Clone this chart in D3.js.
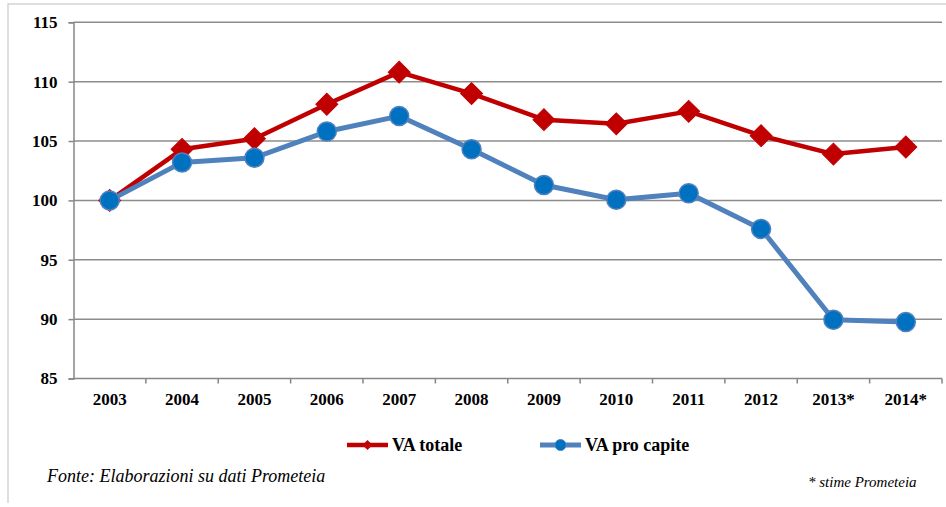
<!DOCTYPE html>
<html>
<head>
<meta charset="utf-8">
<script src="https://cdn.jsdelivr.net/npm/d3@7"></script>
<style>
  body { margin: 0; background: #fff; }
  svg { display: block; }
  text { fill: #000; }
</style>
</head>
<body>
<svg id="chart" width="946" height="507"></svg>
<script>
// Years on the x axis (last two are estimates)
var years = ['2003', '2004', '2005', '2006', '2007', '2008', '2009', '2010', '2011', '2012', '2013*', '2014*'];

// Index values, 2003 = 100
var vaTotale = [100, 104.3, 105.2, 108.1, 110.8, 109.0, 106.8, 106.45, 107.5, 105.45, 103.9, 104.5];
var vaProCapite = [100, 103.2, 103.6, 105.8, 107.1, 104.3, 101.3, 100.05, 100.6, 97.6, 89.95, 89.75];

var yTicks = [85, 90, 95, 100, 105, 110, 115];

var seriesNames = ['VA totale', 'VA pro capite'];

var FONT = '"Liberation Serif", "DejaVu Serif", serif';

var svg = d3.select('#chart');

var margin = { left: 73.5, right: 942, top: 22.3, bottom: 378.5 };

var x = d3.scaleBand()
    .domain(years)
    .range([margin.left, margin.right])
    .padding(0);

var y = d3.scaleLinear()
    .domain([85, 115])
    .range([margin.bottom, margin.top]);

function cx(d) { return x(d) + x.bandwidth() / 2; }

// light frame around the whole figure
svg.append('path')
    .attr('d', 'M8,503 L8,4 L946,4')
    .attr('fill', 'none')
    .attr('stroke', '#d4d4d4')
    .attr('stroke-width', 1.5);

// gridlines
svg.append('g')
    .selectAll('line')
    .data(yTicks.slice(1))
    .enter().append('line')
    .attr('x1', margin.left)
    .attr('x2', margin.right)
    .attr('y1', function (d) { return y(d); })
    .attr('y2', function (d) { return y(d); })
    .attr('stroke', '#8c8c8c')
    .attr('stroke-width', 1.5);

// y axis
var yAxis = svg.append('g')
    .attr('transform', 'translate(' + margin.left + ',0)')
    .call(d3.axisLeft(y).tickValues(yTicks).tickSize(5).tickPadding(11));
yAxis.attr('font-family', FONT).attr('font-size', 17);
yAxis.select('.domain').attr('stroke', '#868686').attr('stroke-width', 1.5);
yAxis.selectAll('.tick line').attr('stroke', '#868686').attr('stroke-width', 1.5);
yAxis.selectAll('text')
    .attr('font-weight', 'bold')
    .attr('fill', '#000');

// x axis: labels centred, tick marks on band edges
var xAxis = svg.append('g')
    .attr('transform', 'translate(0,' + margin.bottom + ')')
    .call(d3.axisBottom(x).tickSize(0).tickPadding(0));
xAxis.attr('font-family', FONT).attr('font-size', 17);
xAxis.select('.domain').remove();
xAxis.selectAll('text')
    .attr('y', 26.5)
    .attr('dy', null)
    .attr('font-weight', 'bold')
    .attr('fill', '#000');

svg.append('line')
    .attr('x1', margin.left)
    .attr('x2', margin.right)
    .attr('y1', margin.bottom)
    .attr('y2', margin.bottom)
    .attr('stroke', '#868686')
    .attr('stroke-width', 1.5);

svg.append('g')
    .selectAll('line')
    .data(years.slice(1).concat(['end']))
    .enter().append('line')
    .attr('x1', function (d) { return d == 'end' ? margin.right : x(d); })
    .attr('x2', function (d) { return d == 'end' ? margin.right : x(d); })
    .attr('y1', margin.bottom)
    .attr('y2', margin.bottom + 5)
    .attr('stroke', '#868686')
    .attr('stroke-width', 1.5);

var line = d3.line()
    .x(function (d, i) { return cx(years[i]); })
    .y(function (d) { return y(d); });

// VA totale
svg.append('path')
    .datum(vaTotale)
    .attr('d', line)
    .attr('fill', 'none')
    .attr('stroke', '#C00000')
    .attr('stroke-width', 4.5)
    .attr('stroke-linejoin', 'round');

var diamond = d3.symbol().type(d3.symbolSquare).size(240);
svg.append('g')
    .selectAll('path')
    .data(vaTotale)
    .enter().append('path')
    .attr('d', diamond)
    .attr('transform', function (d, i) {
        return 'translate(' + cx(years[i]) + ',' + y(d) + ') rotate(45)';
    })
    .attr('fill', '#C00000')
    .attr('stroke', '#C00000')
    .attr('stroke-width', 1);

// VA pro capite
svg.append('path')
    .datum(vaProCapite)
    .attr('d', line)
    .attr('fill', 'none')
    .attr('stroke', '#4F81BD')
    .attr('stroke-width', 5)
    .attr('stroke-linejoin', 'round');

svg.append('g')
    .selectAll('circle')
    .data(vaProCapite)
    .enter().append('circle')
    .attr('cx', function (d, i) { return cx(years[i]); })
    .attr('cy', function (d) { return y(d); })
    .attr('r', 9.5)
    .attr('fill', '#0070C0')
    .attr('stroke', '#4F81BD')
    .attr('stroke-width', 1.5);

// legend
var legend = svg.append('g').attr('transform', 'translate(0,445)');
var legendX = [347, 540];
var legendColors = ['#C00000', '#4F81BD'];

legend.selectAll('line')
    .data(seriesNames)
    .enter().append('line')
    .attr('x1', function (d, i) { return legendX[i]; })
    .attr('x2', function (d, i) { return legendX[i] + 41; })
    .attr('y1', 0)
    .attr('y2', 0)
    .attr('stroke', function (d, i) { return legendColors[i]; })
    .attr('stroke-width', function (d, i) { return i == 0 ? 4.5 : 5; });

legend.append('path')
    .attr('d', d3.symbol().type(d3.symbolSquare).size(50))
    .attr('transform', 'translate(' + (legendX[0] + 20.5) + ',0) rotate(45)')
    .attr('fill', '#C00000');

legend.append('circle')
    .attr('cx', legendX[1] + 20.5)
    .attr('cy', 0)
    .attr('r', 5.5)
    .attr('fill', '#0070C0')
    .attr('stroke', '#4F81BD')
    .attr('stroke-width', 1);

legend.selectAll('text')
    .data(seriesNames)
    .enter().append('text')
    .attr('x', function (d, i) { return legendX[i] + 45; })
    .attr('y', 6)
    .attr('font-family', FONT)
    .attr('font-size', 18)
    .attr('font-weight', 'bold')
    .text(function (d) { return d; });

// notes
svg.append('text')
    .attr('x', 47)
    .attr('y', 482)
    .attr('font-family', FONT)
    .attr('font-size', 18)
    .attr('font-style', 'italic')
    .text('Fonte: Elaborazioni su dati Prometeia');

svg.append('text')
    .attr('x', 808)
    .attr('y', 487)
    .attr('font-family', FONT)
    .attr('font-size', 15)
    .attr('font-style', 'italic')
    .text('* stime Prometeia');
</script>
</body>
</html>
